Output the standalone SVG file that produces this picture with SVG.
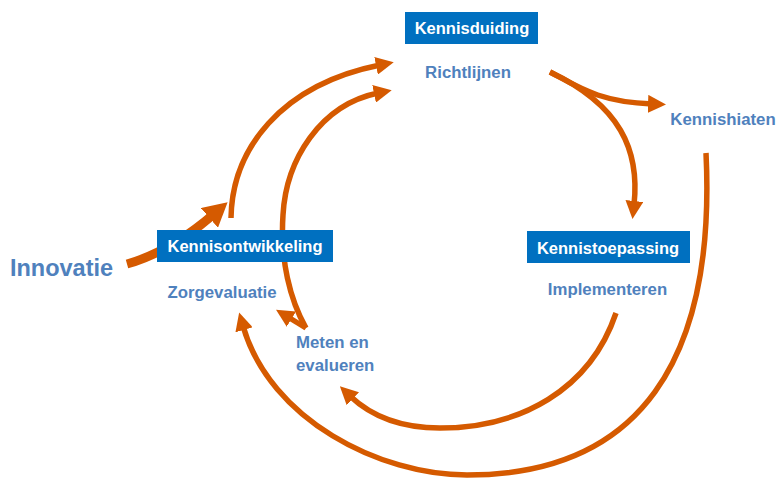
<svg xmlns="http://www.w3.org/2000/svg" width="777" height="479" viewBox="0 0 777 479">
<style>
.box{fill:#0070C0;}
.bt{font-family:"Liberation Sans",Arial,sans-serif;font-weight:bold;font-size:16.5px;fill:#ffffff;text-anchor:middle;}
.lt{font-family:"Liberation Sans",Arial,sans-serif;font-weight:bold;font-size:16.8px;fill:#4F81BD;}
.c{fill:none;stroke:#D55A00;stroke-width:5.5;}
</style>
<defs>
<marker id="ah" markerUnits="userSpaceOnUse" viewBox="0 0 18 18" markerWidth="18" markerHeight="18" refX="4" refY="9" orient="auto">
<path d="M0,0 L18,9 L0,18 z" fill="#D55A00"/>
</marker>
<marker id="ahb" markerUnits="userSpaceOnUse" viewBox="0 0 24 26" markerWidth="24" markerHeight="26" refX="6" refY="13" orient="auto">
<path d="M0,0 L24,13 L0,26 z" fill="#D55A00"/>
</marker>
</defs>
<rect width="777" height="479" fill="#ffffff"/>
<g id="connectors">
<path class="c" d="M127,264 Q170,252 214,214" style="stroke-width:9" marker-end="url(#ahb)"/>
<path class="c" d="M231,218 C232,150 280,85 380,65" marker-end="url(#ah)"/>
<path class="c" d="M306,328 C290,300 280,260 283,215 C286,160 320,105 378,93" marker-end="url(#ah)"/>
<path class="c" d="M306,328 L288,317" marker-end="url(#ah)"/>
<path class="c" d="M550,72 C580,88 600,102 652,104" marker-end="url(#ah)"/>
<path class="c" d="M550,72 C620,105 640,150 634,205" marker-end="url(#ah)"/>
<path class="c" d="M706,153 C716,360 640,475 467,475 C380,475 270,420 243,326" marker-end="url(#ah)"/>
<path class="c" d="M616,313 C590,390 520,428 440,428 C400,428 370,415 350,396" marker-end="url(#ah)"/>
</g>
<g id="kennisduiding">
<rect class="box" x="405" y="12" width="133" height="32"/>
<text class="bt" x="472" y="34">Kennisduiding</text>
</g>
<g id="richtlijnen"><text class="lt" x="468" y="78" text-anchor="middle">Richtlijnen</text></g>
<g id="kennishiaten"><text class="lt" x="723" y="125" text-anchor="middle">Kennishiaten</text></g>
<g id="kennisontwikkeling">
<rect class="box" x="157" y="230" width="176" height="32"/>
<text class="bt" x="245" y="252">Kennisontwikkeling</text>
</g>
<g id="innovatie"><text class="lt" x="61.5" y="276" text-anchor="middle" style="font-size:23.5px">Innovatie</text></g>
<g id="zorgevaluatie"><text class="lt" x="222" y="298" text-anchor="middle">Zorgevaluatie</text></g>
<g id="kennistoepassing">
<rect class="box" x="527" y="231" width="163" height="32"/>
<text class="bt" x="608" y="254">Kennistoepassing</text>
</g>
<g id="implementeren"><text class="lt" x="607.5" y="295" text-anchor="middle">Implementeren</text></g>
<g id="meten">
<text class="lt" x="296" y="348">Meten en</text>
<text class="lt" x="296" y="371">evalueren</text>
</g>
</svg>
